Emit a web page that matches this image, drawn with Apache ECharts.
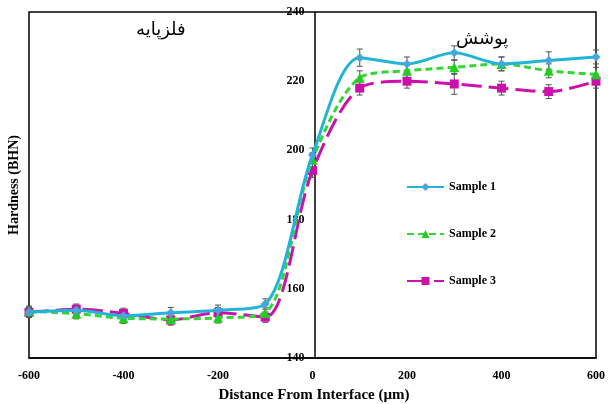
<!DOCTYPE html>
<html>
<head>
<meta charset="utf-8">
<script src="https://cdn.jsdelivr.net/npm/echarts@6/dist/echarts.min.js"></script>
<style>html,body{margin:0;padding:0;background:#fff}#c{width:608px;height:404px}</style>
</head>
<body>
<div id="c"></div>
<script>
const xValues = [-600,-500,-400,-300,-200,-100,0,100,200,300,400,500,600];
const sample1 = [153.2,153.8,152.2,153.1,153.8,155.6,198.7,226.8,225.0,228.2,225.0,226.0,227.0];
const sample2 = [153.5,152.8,151.5,151.3,151.6,153.0,197.3,221.0,223.0,224.0,225.0,223.0,222.0];
const sample3 = [153.2,154.1,152.9,151.0,153.1,151.8,194.2,218.0,220.0,219.2,218.0,217.0,220.0];
const err1 = [1.5,1.5,1.5,1.5,1.5,1.5,2,2.5,2,2,2,2.5,2];
const err2 = [1.5,1.5,1.5,1.5,1.5,1.5,2,2,2,2,2,2,2];
const err3 = [1.5,1.5,1.5,1.5,1.5,1.5,2,2,2,3,2,2,2];
const seriesNames = ['Sample 1','Sample 2','Sample 3'];
const regionLeft = 'فلزپایه';
const regionRight = 'پوشش';
const xTitle = 'Distance From Interface (µm)';
const yTitle = 'Hardness (BHN)';

const chart = echarts.init(document.getElementById('c'));
const font = '"Liberation Serif", "Times New Roman", serif';

function pairs(ys){ return xValues.map((x,i)=>[x,ys[i]]); }
function errData(ys,es){ return xValues.map((x,i)=>[x,ys[i]-es[i],ys[i]+es[i]]); }
function errSeries(ys,es){
  return {
    type:'custom', silent:true, z:1,
    data: errData(ys,es),
    encode:{x:0,y:[1,2]},
    renderItem:function(params,api){
      const x=api.value(0), lo=api.coord([x,api.value(1)]), hi=api.coord([x,api.value(2)]);
      const w=3;
      const st={stroke:'#555',lineWidth:1};
      return {type:'group',children:[
        {type:'line',shape:{x1:lo[0],y1:lo[1],x2:hi[0],y2:hi[1]},style:st},
        {type:'line',shape:{x1:lo[0]-w,y1:lo[1],x2:lo[0]+w,y2:lo[1]},style:st},
        {type:'line',shape:{x1:hi[0]-w,y1:hi[1],x2:hi[0]+w,y2:hi[1]},style:st}
      ]};
    }
  };
}

chart.setOption({
  animation:false,
  grid:{left:29,right:8,top:12,bottom:46,show:true,borderColor:'#000',borderWidth:1.5,backgroundColor:'transparent'},
  xAxis:{type:'value',min:-600,max:600,interval:200,
    axisLine:{onZero:false,lineStyle:{color:'#000',width:1.5}},
    axisTick:{show:false},splitLine:{show:false},
    axisLabel:{color:'#000',fontFamily:font,fontWeight:'bold',fontSize:12,margin:12}
  },
  yAxis:{type:'value',min:140,max:240,interval:20,position:'left',offset:-285.5,
    axisLine:{show:true,onZero:false,lineStyle:{color:'#000',width:1.5}},
    axisTick:{show:false},splitLine:{show:false},
    axisLabel:{color:'#000',fontFamily:font,fontWeight:'bold',fontSize:12,margin:10}
  },
  legend:{orient:'vertical',left:406,top:181,padding:0,itemWidth:37,itemHeight:10,itemGap:35,
    data:seriesNames,
    textStyle:{color:'#000',fontFamily:font,fontWeight:'bold',fontSize:12}
  },
  graphic:[
    {type:'text',left:136,top:21,style:{text:regionLeft,fontSize:18,fontFamily:'"DejaVu Serif","DejaVu Sans",serif',fill:'#000'}},
    {type:'text',left:456,top:30,style:{text:regionRight,fontSize:18,fontFamily:'"DejaVu Serif","DejaVu Sans",serif',fill:'#000'}},
    {type:'text',x:14,y:185,rotation:Math.PI/2,style:{text:yTitle,fontSize:14,fontWeight:'bold',fontFamily:font,fill:'#000',align:'center',verticalAlign:'middle'}},
    {type:'text',x:314,y:395,style:{text:xTitle,fontSize:15,fontWeight:'bold',fontFamily:font,fill:'#000',align:'center',verticalAlign:'middle'}}
  ],
  series:[
    errSeries(sample1,err1),
    errSeries(sample2,err2),
    errSeries(sample3,err3),
    {name:seriesNames[0],type:'line',data:pairs(sample1),smooth:0.3,z:4,
      symbol:'diamond',symbolSize:9,
      itemStyle:{color:'#46A6DA'},
      lineStyle:{color:'#22B4D8',width:3}},
    {name:seriesNames[1],type:'line',data:pairs(sample2),smooth:0.3,z:3,
      symbol:'triangle',symbolSize:10,
      itemStyle:{color:'#22CC22'},
      lineStyle:{color:'#33D633',width:3,type:[7,4]}},
    {name:seriesNames[2],type:'line',data:pairs(sample3),smooth:0.3,z:2,
      symbol:'rect',symbolSize:9,
      itemStyle:{color:'#CC10AA'},
      lineStyle:{color:'#CC10AA',width:3,type:[20,7]}}
  ]
});
</script>
</body>
</html>
